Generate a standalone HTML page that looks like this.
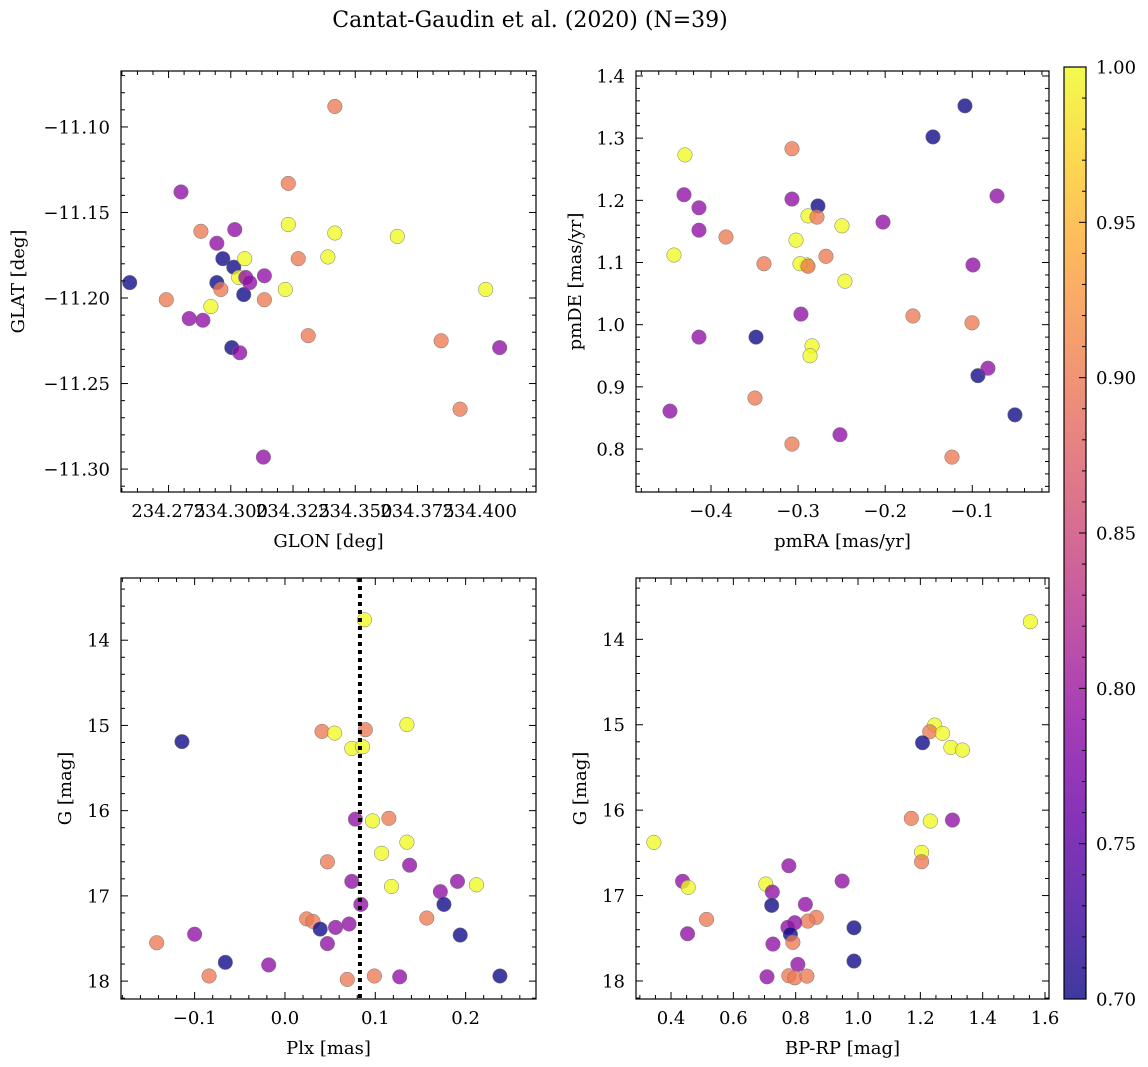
<!DOCTYPE html>
<html><head><meta charset="utf-8"><style>
html,body{margin:0;padding:0;background:#fff;}
svg{display:block;font-family:"DejaVu Serif","Liberation Serif",serif;}
</style></head><body>
<svg id="fig" width="1148" height="1067" viewBox="0 0 1148 1067" xmlns="http://www.w3.org/2000/svg">
<defs><linearGradient id="plasma" x1="0" y1="1" x2="0" y2="0">
<stop offset="0" stop-color="#0d0887"/><stop offset="0.1" stop-color="#41049d"/><stop offset="0.2" stop-color="#6a00a8"/><stop offset="0.3" stop-color="#8f0da4"/><stop offset="0.4" stop-color="#b12a90"/><stop offset="0.5" stop-color="#cc4778"/><stop offset="0.6" stop-color="#e16462"/><stop offset="0.7" stop-color="#f2844b"/><stop offset="0.8" stop-color="#fca636"/><stop offset="0.9" stop-color="#fcce25"/><stop offset="1" stop-color="#f0f921"/>
</linearGradient></defs>
<text x="530" y="27" text-anchor="middle" font-size="22">Cantat-Gaudin et al. (2020) (N=39)</text>
</svg>
<script>
// Panel 1: GLON vs GLAT
const glon=[234.2594,234.2741,234.280,234.288,234.2833,234.2888,234.2944,234.2968,234.2944,234.296,234.292,234.3016,234.3012,234.3004,234.3036,234.3032,234.3056,234.3052,234.306,234.3076,234.3135,234.3135,234.3131,234.3231,234.3231,234.3219,234.3271,234.3311,234.3418,234.3418,234.339,234.3669,234.3845,234.3921,234.4024,234.408];
const glat=[-11.191,-11.201,-11.138,-11.161,-11.212,-11.213,-11.168,-11.177,-11.191,-11.195,-11.205,-11.160,-11.182,-11.229,-11.232,-11.188,-11.177,-11.198,-11.188,-11.191,-11.187,-11.201,-11.293,-11.133,-11.157,-11.195,-11.177,-11.222,-11.088,-11.162,-11.176,-11.164,-11.225,-11.265,-11.195,-11.229];
const c1=[0.70,0.90,0.79,0.90,0.79,0.79,0.79,0.70,0.70,0.90,1.0,0.79,0.70,0.70,0.79,1.0,1.0,0.70,0.79,0.79,0.79,0.90,0.79,0.90,1.0,1.0,0.90,0.90,0.90,1.0,1.0,1.0,0.90,0.90,1.0,0.79];
// Panel 2: pmRA vs pmDE
const pmra=[-0.4425,-0.4299,-0.4310,-0.4138,-0.4138,-0.4138,-0.4471,-0.3828,-0.3392,-0.3483,-0.3495,-0.3070,-0.2886,-0.2898,-0.3070,-0.3070,-0.3024,-0.2978,-0.2886,-0.2967,-0.2772,-0.2783,-0.2680,-0.2840,-0.2863,-0.2496,-0.2462,-0.2519,-0.2025,-0.1681,-0.1451,-0.1084,-0.0992,-0.1003,-0.0935,-0.082,-0.0716,-0.051,-0.1233];
const pmde=[1.112,1.273,1.209,1.188,1.152,0.980,0.861,1.141,1.098,0.980,0.882,0.808,1.175,1.096,1.283,1.202,1.136,1.098,1.094,1.017,1.191,1.173,1.110,0.966,0.950,1.159,1.070,0.823,1.165,1.014,1.302,1.352,1.096,1.003,0.918,0.930,1.207,0.855,0.787];
const c2=[1.0,1.0,0.79,0.79,0.79,0.79,0.79,0.90,0.90,0.70,0.90,0.90,1.0,1.0,0.90,0.79,1.0,1.0,0.90,0.79,0.70,0.90,0.90,1.0,1.0,1.0,1.0,0.79,0.79,0.90,0.70,0.70,0.79,0.90,0.70,0.79,0.79,0.70,0.90];
// Panel 3: Plx vs G
const plx=[-0.142,-0.100,-0.084,-0.114,-0.066,-0.018,0.024,0.031,0.039,0.041,0.047,0.047,0.055,0.056,0.069,0.071,0.074,0.074,0.078,0.084,0.086,0.088,0.089,0.097,0.099,0.107,0.115,0.118,0.127,0.135,0.135,0.138,0.157,0.172,0.176,0.191,0.194,0.212,0.238];
const g3=[17.55,17.45,17.94,15.19,17.78,17.81,17.27,17.30,17.39,15.07,16.60,17.56,15.09,17.37,17.98,17.33,16.83,15.27,16.10,17.10,15.25,13.76,15.05,16.12,17.94,16.50,16.09,16.89,17.95,16.37,14.99,16.64,17.26,16.95,17.10,16.83,17.46,16.87,17.94];
const c3=[0.90,0.79,0.90,0.70,0.70,0.79,0.90,0.90,0.70,0.90,0.90,0.79,1.0,0.79,0.90,0.79,0.79,1.0,0.79,0.79,1.0,1.0,0.90,1.0,0.90,1.0,0.90,1.0,0.79,1.0,1.0,0.79,0.90,0.79,0.70,0.79,0.70,1.0,0.70];
const plxRef=[0.083];
// Panel 4: BP-RP vs G
const bprp=[1.553,1.246,1.230,1.271,1.207,1.298,1.335,1.171,1.232,1.303,1.204,1.204,0.778,0.949,0.704,0.725,0.723,0.831,0.866,0.839,0.797,0.775,0.783,0.791,0.727,0.987,0.987,0.807,0.708,0.778,0.797,0.836,0.345,0.437,0.455,0.514,0.453];
const g4=[13.794,15.004,15.082,15.101,15.211,15.265,15.296,16.096,16.128,16.116,16.494,16.604,16.651,16.830,16.865,16.959,17.115,17.103,17.255,17.299,17.318,17.372,17.454,17.548,17.568,17.377,17.767,17.806,17.951,17.939,17.963,17.943,16.377,16.833,16.904,17.279,17.447];
const c4=[1.0,1.0,0.90,1.0,0.70,1.0,1.0,0.90,1.0,0.79,1.0,0.90,0.79,0.79,1.0,0.79,0.70,0.79,0.90,0.90,0.79,0.79,0.70,0.90,0.79,0.70,0.70,0.79,0.79,0.90,0.90,0.90,1.0,0.79,1.0,0.90,0.79];
const cbTicks=[0.70,0.75,0.80,0.85,0.90,0.95,1.00];

const NS="http://www.w3.org/2000/svg";
const svg=document.getElementById('fig');
function mk(tag,attrs,parent){const e=document.createElementNS(NS,tag);for(const k in attrs)e.setAttribute(k,attrs[k]);(parent||svg).appendChild(e);return e;}
const stops=[[13,8,135],[65,4,157],[106,0,168],[143,13,164],[177,42,144],[204,71,120],[225,100,98],[242,132,75],[252,166,54],[252,206,37],[240,249,33]];
function plasma(v){let t=(v-0.7)/0.3;t=Math.max(0,Math.min(1,t));const f=t*10,i=Math.min(9,Math.floor(f)),r=f-i;const a=stops[i],b=stops[i+1];return 'rgb('+a.map((x,j)=>Math.round(x+(b[j]-x)*r)).join(',')+')';}
function fmt(v,d){const s=Math.abs(v).toFixed(d);return (v<-1e-9?'\u2212':'')+s;}

function panel(o){
  const g=mk('g',{});
  
  
  const X=v=>o.x0+(v-o.xmin)/(o.xmax-o.xmin)*(o.x1-o.x0);
  const Y=v=>o.yinv? o.y0+(v-o.ymin)/(o.ymax-o.ymin)*(o.y1-o.y0) : o.y1-(v-o.ymin)/(o.ymax-o.ymin)*(o.y1-o.y0);
  const pg=mk('g',{},g);
  
  
  for(let i=0;i<o.xs.length;i++){
    const c=mk('circle',{cx:X(o.xs[i]),cy:Y(o.ys[i]),r:7.3,fill:plasma(o.cs[i]),'fill-opacity':0.78,stroke:'#777','stroke-width':0.5},pg);
    
    
  }
  if(o.vline){for(const v of o.vline){const l=mk('line',{x1:X(v),x2:X(v),y1:o.y0,y2:o.y1,stroke:'#000','stroke-width':4,'stroke-dasharray':'4,4'},g);
    
    }}
  const fr=mk('rect',{x:o.x0,y:o.y0,width:o.x1-o.x0,height:o.y1-o.y0,fill:'none',stroke:'#000','stroke-width':1.2},g);
  
  
  const eps=1e-9;
  const xs0=Math.ceil((o.xmin)/o.xminor-eps)*o.xminor;
  for(let k=0;;k++){const v=xs0+k*o.xminor;if(v>o.xmax+eps)break;const p=X(v);const maj=Math.abs(v/o.xmaj-Math.round(v/o.xmaj))<1e-4;const L=maj?7:4;
    mk('line',{x1:p,x2:p,y1:o.y1,y2:o.y1-L,stroke:'#000','stroke-width':1},g);mk('line',{x1:p,x2:p,y1:o.y0,y2:o.y0+L,stroke:'#000','stroke-width':1},g);}
  for(const v of o.xt){const t=mk('text',{x:X(v),y:o.y1+25,'text-anchor':'middle','font-size':18},g);t.textContent=fmt(v,o.xd);
    
    }
  const ys0=Math.ceil((o.ymin)/o.yminor-eps)*o.yminor;
  for(let k=0;;k++){const v=ys0+k*o.yminor;if(v>o.ymax+eps)break;const p=Y(v);const maj=Math.abs(v/o.ymaj-Math.round(v/o.ymaj))<1e-4;const L=maj?7:4;
    mk('line',{x1:o.x0,x2:o.x0+L,y1:p,y2:p,stroke:'#000','stroke-width':1},g);mk('line',{x1:o.x1,x2:o.x1-L,y1:p,y2:p,stroke:'#000','stroke-width':1},g);}
  for(const v of o.yt){const t=mk('text',{x:o.x0-11,y:Y(v)+6.5,'text-anchor':'end','font-size':18},g);t.textContent=fmt(v,o.yd);
    
    }
  const xl=mk('text',{x:(o.x0+o.x1)/2,y:o.y1+55,'text-anchor':'middle','font-size':18},g);xl.textContent=o.xlab;
  
  
  const yc=(o.y0+o.y1)/2;
  const yl=mk('text',{x:o.ylx,y:yc,'text-anchor':'middle','font-size':18,transform:'rotate(-90 '+o.ylx+' '+yc+')'},g);yl.textContent=o.ylab;
  
  
}
panel({name:'panel-glon-glat',x0:121,x1:536,y0:71,y1:492,xmin:234.2559,xmax:234.4226,ymin:-11.3134,ymax:-11.0673,xmaj:0.025,xminor:0.00625,ymaj:0.05,yminor:0.01,
  xt:[234.275,234.300,234.325,234.350,234.375,234.400],xd:3,yt:[-11.30,-11.25,-11.20,-11.15,-11.10],yd:2,xs:glon,ys:glat,cs:c1,xlab:'GLON [deg]',ylab:'GLAT [deg]',ylx:24});
panel({name:'panel-pm',x0:636,x1:1049,y0:71,y1:492,xmin:-0.4861,xmax:-0.0119,ymin:0.7309,ymax:1.408,xmaj:0.1,xminor:0.02,ymaj:0.1,yminor:0.02,
  xt:[-0.4,-0.3,-0.2,-0.1],xd:1,yt:[0.8,0.9,1.0,1.1,1.2,1.3,1.4],yd:1,xs:pmra,ys:pmde,cs:c2,xlab:'pmRA [mas/yr]',ylab:'pmDE [mas/yr]',ylx:581});
panel({name:'panel-plx-g',x0:121,x1:536,y0:578,y1:999,xmin:-0.1815,xmax:0.2779,ymin:13.27,ymax:18.21,yinv:true,xmaj:0.1,xminor:0.02,ymaj:1,yminor:0.2,
  xt:[-0.1,0.0,0.1,0.2],xd:1,yt:[14,15,16,17,18],yd:0,xs:plx,ys:g3,cs:c3,vline:plxRef,xlab:'Plx [mas]',ylab:'G [mag]',ylx:71});
panel({name:'panel-cmd',x0:636,x1:1049,y0:578,y1:999,xmin:0.2876,xmax:1.6128,ymin:13.282,ymax:18.211,yinv:true,xmaj:0.2,xminor:0.05,ymaj:1,yminor:0.2,
  xt:[0.4,0.6,0.8,1.0,1.2,1.4,1.6],xd:1,yt:[14,15,16,17,18],yd:0,xs:bprp,ys:g4,cs:c4,xlab:'BP-RP [mag]',ylab:'G [mag]',ylx:586});
const cb=mk('g',{});


const cbx=1064,cbw=22,cby0=67,cby1=999;
mk('rect',{x:cbx,y:cby0,width:cbw,height:cby1-cby0,fill:'url(#plasma)','fill-opacity':0.8},cb);
mk('rect',{x:cbx,y:cby0,width:cbw,height:cby1-cby0,fill:'none',stroke:'#000','stroke-width':1.2},cb);
const CY=v=>cby1-(v-0.7)/0.3*(cby1-cby0);
for(let k=0;k<=30;k++){const v=0.70+k*0.01;const p=CY(v);const maj=k%5===0;
  mk('line',{x1:cbx+cbw,x2:cbx+cbw-(maj?7:4),y1:p,y2:p,stroke:'#000','stroke-width':1},cb);}
for(const v of cbTicks){const t=mk('text',{x:cbx+cbw+10,y:CY(v)+6.5,'font-size':18},cb);t.textContent=v.toFixed(2);
  
  }
</script>
</body></html>
